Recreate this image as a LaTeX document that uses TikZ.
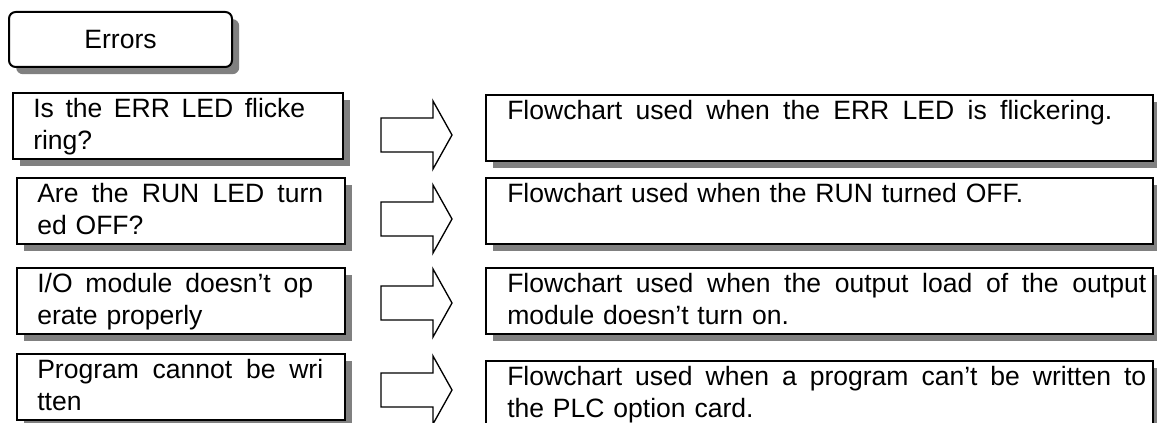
\documentclass[tikz,border=0pt]{standalone}
\usepackage{fontspec}
\setmainfont{Liberation Sans}
\usetikzlibrary{shadows}

\definecolor{shadowgray}{RGB}{128,128,128}

\tikzset{
  shbox/.style={draw, line width=1.5pt, fill=white, anchor=north west, inner sep=0pt,
    drop shadow={shadow xshift=5.4pt, shadow yshift=-5.4pt, fill=shadowgray, opacity=1}},
  qbox/.style={shbox, minimum width=246pt, minimum height=49.5pt},
  abox/.style={shbox, minimum width=500.25pt, minimum height=49.5pt},
  txt/.style={anchor=base west, inner sep=0pt, align=left, text width=520pt,
    font=\fontsize{19.9pt}{24pt}\selectfont},
  blockarr/.style={draw, line width=1pt, fill=white}
}

\begin{document}
\begin{tikzpicture}[x=0.75pt, y=-0.75pt]
  \useasboundingbox (0,0) rectangle (1157,423);
  \clip (0,0) rectangle (1157,423);

  % title
  \node[shbox, rounded corners=5pt, minimum width=167.25pt, minimum height=41.25pt,
        font=\fontsize{19.9pt}{24pt}\selectfont] (errors) at (8,11) {Errors};

  % questions
  \node[qbox, minimum width=247.5pt] (q1) at (12,92) {};
  \node[qbox] (q2) at (16,177) {};
  \node[qbox] (q3) at (16,267) {};
  \node[qbox] (q4) at (16,353) {};

  \node[txt] (q1t) at ([shift={(21,26)}]q1.north west)
    {\makebox[204pt][l]{Is\hfill the\hfill ERR\hfill LED\hfill flicke}\\ring?};
  \node[txt] (q2t) at ([shift={(21,26)}]q2.north west)
    {\makebox[214.5pt][l]{Are\hfill the\hfill RUN\hfill LED\hfill turn}\\ed OFF?};
  \node[txt] (q3t) at ([shift={(21,26)}]q3.north west)
    {\makebox[207pt][l]{I/O\hfill module\hfill doesn’t\hfill op}\\erate properly};
  \node[txt] (q4t) at ([shift={(21,26)}]q4.north west)
    {\makebox[214.5pt][l]{Program\hfill cannot\hfill be\hfill wri}\\tten};

  % block arrows
  \foreach \c in {135,219,303,390}
    \draw[blockarr] (381,\c-17) -- (433,\c-17) -- (433,\c-34) -- (452,\c)
      -- (433,\c+34) -- (433,\c+17) -- (381,\c+17) -- cycle;

  % answers
  \node[abox] (a1) at (485,94) {};
  \node[abox] (a2) at (485,177) {};
  \node[abox] (a3) at (485,267) {};
  \node[abox] (a4) at (485,360) {};

  \node[txt] (a1t) at ([shift={(22,26)}]a1.north west)
    {\makebox[453.75pt][l]{Flowchart\hfill used\hfill when\hfill the\hfill ERR\hfill LED\hfill is\hfill flickering.}};
  \node[txt] (a2t) at ([shift={(22,26)}]a2.north west)
    {Flowchart used when the RUN turned OFF.};
  \node[txt] (a3t) at ([shift={(22,26)}]a3.north west)
    {\makebox[479.25pt][l]{Flowchart\hfill used\hfill when\hfill the\hfill output\hfill load\hfill of\hfill the\hfill output}\\module doesn’t turn on.};
  \node[txt] (a4t) at ([shift={(22,26)}]a4.north west)
    {\makebox[479.25pt][l]{Flowchart\hfill used\hfill when\hfill a\hfill program\hfill can’t\hfill be\hfill written\hfill to}\\the PLC option card.};
\end{tikzpicture}
\end{document}
